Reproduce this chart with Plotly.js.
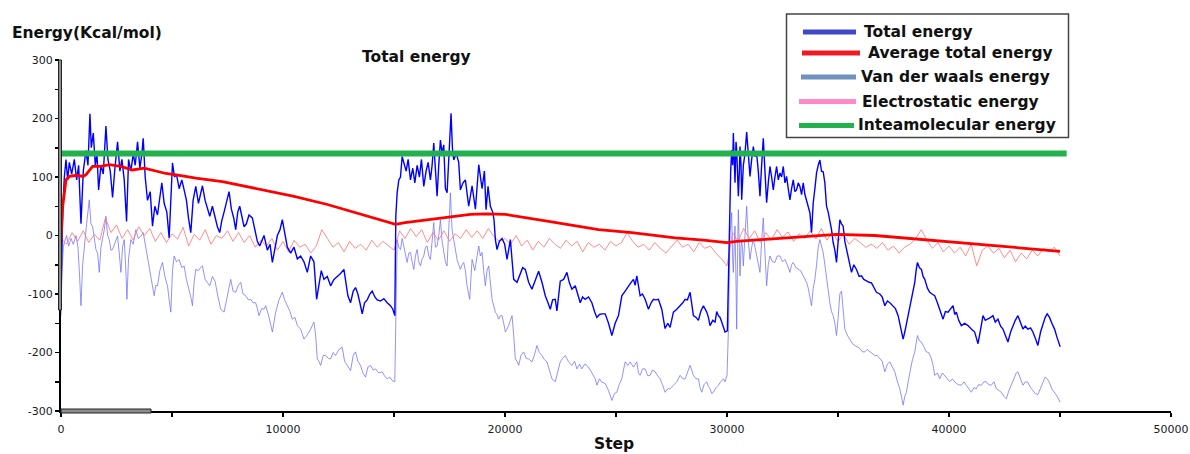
<!DOCTYPE html>
<html>
<head>
<meta charset="utf-8">
<script src="https://cdn.plot.ly/plotly-3.0.1.min.js"></script>
<style>html,body{margin:0;padding:0;background:#fff;}#chart{width:1190px;height:454px;}</style>
</head>
<body>
<div id="chart"></div>
<script>
// ---- Data (step, energy) ----
const totalEnergy = [[0,-110],[30,-40],[75,40],[150,100],[225,130],[300,95],[375,125],[480,105],[600,130],[705,95],[795,120],[900,20],[1004,110],[1124,145],[1214,120],[1304,208],[1364,150],[1454,175],[1544,120],[1619,140],[1694,78],[1799,120],[1904,105],[2024,187],[2114,130],[2219,110],[2323,65],[2428,115],[2548,160],[2653,110],[2743,130],[2848,95],[2953,24],[3043,130],[3148,110],[3253,140],[3343,120],[3448,160],[3553,115],[3643,140],[3703,166],[3793,100],[3897,60],[4017,75],[4122,16],[4227,50],[4347,35],[4452,65],[4542,90],[4647,55],[4767,40],[4872,-4],[4947,60],[5022,124],[5112,100],[5202,105],[5322,80],[5442,95],[5546,78],[5651,60],[5741,30],[5846,5],[5951,60],[6071,84],[6191,55],[6281,70],[6371,85],[6491,60],[6596,45],[6701,33],[6820,50],[6940,30],[7045,15],[7150,5],[7240,25],[7345,40],[7465,60],[7570,75],[7675,45],[7780,30],[7870,10],[7960,40],[8050,50],[8140,35],[8245,15],[8350,20],[8469,35],[8619,30],[8739,10],[8844,-10],[8949,-18],[9144,0],
[9296,-25],[9416,-15],[9521,-46],[9641,-20],[9746,0],[9865,10],[9970,27],[10075,5],[10195,-20],[10345,-30],[10495,-20],[10645,-40],[10795,-35],[10945,-45],[11095,-63],[11245,-35],[11394,-45],[11514,-109],[11619,-80],[11724,-60],[11844,-75],[11994,-70],[12144,-86],[12294,-75],[12444,-70],[12594,-65],[12744,-58],[12818,-80],[12923,-103],[13043,-115],[13163,-95],[13268,-89],[13373,-100],[13463,-115],[13568,-134],[13673,-115],[13793,-110],[13913,-100],[14018,-95],[14138,-105],[14243,-110],[14393,-112],[14543,-108],[14692,-115],[14842,-120],[14947,-126],[15037,-137],[15082,33],[15142,73],[15217,95],[15292,100],[15367,135],[15442,124],[15547,110],[15637,130],[15742,95],[15847,115],[15937,90],[16042,120],[16146,100],[16236,130],[16341,84],[16446,110],[16536,125],[16641,95],[16716,120],[16791,158],[16866,100],[16941,67],[17016,120],[17091,163],[17166,140],[17241,155],[17316,80],[17391,73],[17466,130],[17570,209],[17630,150],[17690,129],[17810,140],[17915,125],[17990,78],[18110,90],[18215,95],[18365,50],
[18517,85],[18667,45],[18817,121],[18967,80],[19072,110],[19146,44],[19236,84],[19341,50],[19446,40],[19506,27],[19566,-7],[19641,-24],[19746,-10],[19866,-5],[19986,-15],[20091,-41],[20241,-7],[20316,-40],[20391,-75],[20541,-80],[20690,-63],[20795,-55],[20915,-58],[21065,-80],[21215,-92],[21365,-75],[21515,-61],[21665,-80],[21815,-103],[21935,-115],[22040,-126],[22145,-110],[22265,-109],[22339,-129],[22489,-78],[22639,-75],[22789,-63],[22894,-80],[23014,-92],[23164,-86],[23284,-100],[23389,-115],[23494,-105],[23613,-109],[23763,-105],[23913,-115],[24033,-130],[24138,-140],[24258,-135],[24363,-134],[24513,-134],[24663,-150],[24813,-171],[24963,-150],[25112,-137],[25262,-103],[25412,-95],[25562,-86],[25682,-80],[25787,-75],[25862,-85],[25937,-69],[26012,-90],[26087,-103],[26192,-100],[26312,-109],[26462,-126],[26582,-115],[26687,-109],[26791,-110],[26911,-109],[27061,-126],[27211,-159],[27331,-150],[27436,-157],[27586,-131],
[27738,-126],[27888,-120],[28008,-115],[28113,-109],[28218,-110],[28337,-97],[28412,-115],[28487,-137],[28607,-140],[28712,-145],[28817,-130],[28937,-120],[29087,-131],[29162,-140],[29237,-154],[29357,-145],[29462,-148],[29537,-130],[29612,-137],[29687,-140],[29762,-148],[29836,-155],[29911,-165],[30016,-163],[30076,-50],[30121,73],[30166,110],[30211,146],[30256,120],[30286,175],[30331,130],[30361,90],[30406,160],[30436,146],[30481,100],[30511,67],[30556,110],[30586,152],[30631,120],[30661,61],[30736,120],[30811,140],[30886,177],[30961,140],[31036,101],[31111,130],[31186,152],[31260,135],[31335,140],[31410,110],[31485,67],[31560,120],[31635,166],[31710,110],[31785,56],[31860,90],[31935,118],[32010,100],[32085,78],[32160,100],[32235,118],[32310,95],[32385,107],[32460,100],[32535,118],[32610,90],[32684,101],[32759,80],[32834,61],[32909,80],[32984,95],[33059,75],[33134,78],[33209,90],[33284,84],[33359,70],[33434,90],[33509,70],[33584,61],[33659,50],[33734,39],[33809,5],[33884,56],[33959,80],[34034,107],[34109,120],[34183,129],[34258,110],[34333,109],[34408,90],[34483,50],[34558,40],[34633,27],[34708,10],[34783,-12],[34858,-25],[34933,-46],[35008,0],[35083,27],[35158,20],[35233,16],[35308,-10],[35383,-24],[35503,-45],[35608,-63],[35713,-50],[35833,-58],[35953,-70],[36057,-69],[36162,-75],[36282,-78],[36402,-80],[36507,-81],[36612,-88],[36732,-97],[36882,-100],
[36989,-105],[37109,-120],[37229,-112],[37334,-115],[37483,-120],[37588,-125],[37708,-137],[37828,-160],[37933,-177],[38008,-165],[38083,-150],[38188,-130],[38308,-109],[38383,-95],[38458,-80],[38518,-60],[38578,-46],[38668,-55],[38758,-58],[38833,-70],[38908,-75],[39028,-90],[39133,-97],[39237,-100],[39357,-103],[39477,-115],[39582,-126],[39657,-135],[39732,-143],[39837,-130],[39957,-131],[40077,-125],[40182,-120],[40257,-135],[40332,-131],[40437,-145],[40556,-154],[40706,-150],[40856,-154],[41006,-160],[41156,-165],[41231,-175],[41306,-185],[41426,-160],[41531,-137],[41636,-145],[41756,-143],[41876,-140],[41980,-137],[42085,-148],[42205,-143],[42325,-155],[42430,-160],[42535,-170],[42655,-182],[42775,-165],[42880,-154],[42985,-145],[43105,-137],[43225,-150],[43330,-160],[43435,-155],[43554,-160],[43674,-158],[43779,-165],[43884,-175],[44004,-188],[44124,-165],[44229,-150],[44334,-140],[44424,-134],[44529,-140],[44634,-150],[44754,-160],[44874,-175],[45008,-190]];

const vdwEnergy = [[0,-137],[45,-60],[105,-20],[150,-12],[255,0],[345,-18],[450,-5],[555,-15],[675,0],[765,-20],[825,-60],[900,-120],[975,-50],[1049,-18],[1154,20],[1274,61],[1349,20],[1424,15],[1499,-10],[1574,-24],[1649,-30],[1724,-63],[1799,-20],[1874,-7],[1949,10],[2024,33],[2099,0],[2174,-7],[2249,-25],[2323,-24],[2443,-10],[2548,-1],[2623,-30],[2698,-63],[2773,-20],[2848,-7],[2923,-60],[2968,-109],[3043,-40],[3148,-7],[3253,-15],[3373,10],[3478,-5],[3598,-1],[3703,5],[3793,-15],[3898,-35],[3973,-55],[4047,-75],[4122,-90],[4197,-103],[4272,-85],[4347,-86],[4452,-60],[4572,-46],[4677,-70],[4797,-86],[4872,-110],[4947,-131],[5022,-60],[5097,-35],[5202,-45],[5322,-41],[5442,-55],[5546,-52],[5651,-75],[5771,-92],[5846,-105],[5921,-120],[5996,-80],[6071,-58],[6191,-60],[6281,-55],[6371,-52],[6491,-75],[6596,-80],[6701,-86],[6820,-70],[6940,-78],[7045,-100],[7195,-126],[7345,-131],[7450,-110],[7570,-85],[7645,-75],[7750,-95],[7870,-97],[7990,-85],[8095,-80],[8200,-100],[8320,-103],[8440,-110],[8544,-109],[8649,-115],[8769,-115],[8844,-125],[8919,-137],[9039,-125],[9144,-126],
[9221,-120],[9371,-140],[9521,-165],[9671,-131],[9820,-110],[9970,-97],[10075,-110],[10195,-120],[10315,-130],[10420,-143],[10540,-140],[10645,-154],[10795,-160],[10945,-177],[11095,-170],[11245,-160],[11394,-148],[11469,-170],[11544,-211],[11619,-215],[11694,-222],[11814,-205],[11919,-205],[12039,-210],[12144,-211],[12264,-200],[12369,-205],[12519,-195],[12669,-191],[12774,-215],[12894,-222],[13043,-231],[13163,-205],[13268,-199],[13373,-215],[13493,-222],[13598,-235],[13718,-242],[13823,-225],[13943,-222],[14063,-230],[14168,-228],[14318,-235],[14468,-233],[14573,-240],[14693,-245],[14813,-242],[14917,-248],[15037,-250],[15067,-183],[15112,-60],[15142,-7],[15217,-20],[15292,-24],[15367,-5],[15442,-18],[15517,-35],[15592,-46],[15667,-30],[15742,-29],[15817,-45],[15891,-58],[15966,-35],[16041,-24],[16116,-45],[16191,-52],[16266,-40],[16341,-35],[16416,-20],[16491,-18],[16566,-35],[16641,-41],[16716,-10],[16791,22],[16866,-20],[16941,-18],[17016,0],[17091,27],[17166,-10],[17241,-29],[17316,-45],[17391,-52],[17466,0],[17541,73],[17616,10],[17690,-7],[17765,-30],[17840,-41],[17915,-50],[17990,-58],[18065,-50],[18140,-46],[18215,-60],[18290,-86],[18410,-109],
[18517,-41],[18637,-60],[18742,-30],[18817,-18],[18892,-35],[18967,-29],[19041,-60],[19116,-86],[19191,-60],[19266,-52],[19341,-80],[19416,-109],[19491,-120],[19566,-131],[19641,-135],[19716,-143],[19791,-137],[19866,-137],[19941,-150],[20016,-165],[20091,-160],[20166,-154],[20241,-145],[20316,-137],[20391,-170],[20466,-211],[20541,-215],[20616,-222],[20720,-205],[20840,-199],[20960,-210],[21065,-211],[21215,-216],[21320,-205],[21440,-188],[21545,-200],[21665,-205],[21770,-212],[21890,-216],[21995,-230],[22115,-245],[22265,-250],[22384,-230],[22489,-216],[22594,-210],[22714,-205],[22864,-216],[23014,-222],[23134,-215],[23239,-228],[23359,-220],[23464,-228],[23584,-220],[23689,-222],[23839,-230],[23989,-239],[24063,-245],[24138,-256],[24258,-245],[24363,-251],[24513,-253],[24663,-265],[24813,-282],[24933,-270],[25038,-268],[25143,-255],[25262,-245],[25337,-230],[25412,-216],[25532,-222],[25637,-216],[25787,-225],[25937,-216],[26012,-235],[26087,-239],[26192,-228],[26312,-228],[26432,-240],[26537,-239],[26642,-230],[26762,-233],[26882,-240],[26987,-245],[27092,-255],[27211,-268],[27331,-262],[27436,-262],[27586,-256],
[27738,-250],[27888,-239],[28008,-245],[28113,-245],[28218,-235],[28337,-222],[28412,-230],[28487,-239],[28607,-245],[28712,-245],[28787,-260],[28862,-268],[28967,-255],[29087,-250],[29162,-258],[29237,-262],[29312,-270],[29387,-268],[29507,-260],[29612,-256],[29717,-250],[29836,-245],[29911,-250],[30001,-239],[30061,-165],[30106,-30],[30136,5],[30181,20],[30211,39],[30256,-40],[30286,-63],[30331,-10],[30361,16],[30406,-80],[30436,-160],[30481,-20],[30511,44],[30556,-20],[30586,-69],[30631,-20],[30661,-7],[30706,-30],[30736,-52],[30811,0],[30886,50],[30961,-10],[31036,-41],[31111,-20],[31186,-7],[31260,-20],[31335,-35],[31410,-45],[31485,-63],[31560,-10],[31635,30],[31710,-30],[31785,-86],[31860,-50],[31935,-35],[32055,-45],[32160,-46],[32265,-35],[32385,-35],[32505,-45],[32610,-41],[32714,-50],[32834,-63],[32909,-50],[32984,-46],[33104,-55],[33209,-58],[33314,-60],[33434,-69],[33509,-75],[33584,-80],[33659,-90],[33734,-105],[33809,-120],[33884,-90],[33959,-75],[34034,-50],[34109,-20],[34183,-7],[34258,-20],[34333,-29],[34408,-50],[34483,-75],[34558,-100],[34633,-115],[34708,-130],[34783,-137],[34858,-150],[34933,-171],[35008,-140],[35083,-100],[35158,-95],[35233,-130],[35308,-160],[35413,-170],[35533,-177],[35653,-185],[35758,-188],[35863,-190],[35983,-193],[36103,-199],[36207,-199],[36312,-195],[36432,-199],[36552,-202],[36657,-205],[36762,-205],[36882,-210],
[36989,-215],[37109,-233],[37229,-220],[37334,-216],[37438,-225],[37558,-233],[37678,-250],[37783,-262],[37858,-275],[37933,-290],[38008,-275],[38083,-268],[38158,-250],[38233,-233],[38338,-215],[38458,-199],[38518,-185],[38578,-171],[38668,-180],[38758,-182],[38863,-190],[38983,-199],[39088,-200],[39208,-211],[39283,-222],[39357,-239],[39477,-235],[39582,-245],[39702,-235],[39807,-239],[39927,-245],[40032,-250],[40152,-245],[40257,-250],[40407,-255],[40556,-256],[40676,-250],[40781,-256],[40901,-262],[41006,-268],[41126,-260],[41231,-262],[41336,-255],[41456,-256],[41576,-250],[41681,-250],[41786,-255],[41906,-256],[42026,-250],[42131,-262],[42251,-265],[42356,-268],[42475,-275],[42580,-279],[42700,-265],[42805,-256],[42925,-245],[43030,-235],[43105,-233],[43225,-245],[43330,-256],[43435,-250],[43554,-251],[43674,-260],[43779,-265],[43884,-270],[44004,-272],[44124,-260],[44229,-250],[44334,-242],[44424,-245],[44529,-252],[44634,-262],[44754,-268],[44874,-275],[45008,-285]];

const elecEnergy = [[0,-5],[250,-15],[500,5],[750,-10],[1000,8],[1250,-12],[1500,2],[1750,-8],[2000,30],[2250,5],[2500,18],[2750,-5],[3000,10],[3250,-8],[3500,15],[3750,0],[4000,12],[4250,-10],[4500,5],[4750,-12],[5000,3],[5250,-6],[5500,14],[5750,-18],[6000,2],[6250,-8],[6500,10],[6750,-15],[7000,0],[7250,-5],[7500,8],[7750,-10],[8000,5],[8250,-12],[8500,0],[8750,-20],[9000,-8],[9250,-18],[9500,-5],[9750,-25],[10000,-10],[10250,-28],[10500,-8],[10750,-20],[11000,-15],[11250,-30],[11500,-18],[11750,10],[12000,-5],[12250,-20],[12500,-12],[12750,-28],[13000,-10],[13250,-22],[13500,-15],[13750,-25],[14000,-8],[14250,-20],[14500,-10],[14750,-18],[15000,-25],[15250,8],[15500,-5],[15750,12],[16000,-2],[16250,10],[16500,-12],[16750,5],[17000,-8],[17250,8],[17500,-10],[17750,3],[18000,-5],[18250,10],[18500,-3],[18750,8],[19000,-5],[19250,12],[19500,-2],[19750,-10],[20000,-5],[20250,-15],[20500,0],[20750,-18],[21000,-8],[21250,-25],[21500,-10],[21750,-20],[22000,-5],[22250,-15],[22500,-22],[22750,-8],[23000,-18],[23250,-10],[23500,-28],[23750,-12],[24000,-20],[24250,-15],[24500,-25],[24750,-10],[25000,-18],[25250,-12],[25500,5],[25750,-10],[26000,-20],[26250,-15],[26500,-25],[26750,-12],[27000,-22],[27250,-30],[27500,-18],[27750,-8],[28000,-20],[28250,-15],[28500,-28],[28750,-12],[29000,-22],[29250,-18],[29500,-30],[29750,-40],[30000,-52],[30250,5],[30500,-10],[30750,12],[31000,-5],[31250,8],[31500,-12],[31750,5],[32000,-8],[32250,10],[32500,-3],[32750,6],[33000,-10],[33250,3],[33500,-5],[33750,8],[34000,-6],[34250,12],[34500,-8],[34750,5],[35000,-10],[35250,2],[35500,-15],[35750,-5],[36000,-12],[36250,-20],[36500,-15],[36750,-22],[37000,-12],[37250,-25],[37500,-18],[37750,-30],[38000,-20],[38250,-15],[38500,-5],[38750,10],[39000,-8],[39250,-22],[39500,-12],[39750,-28],[40000,-18],[40250,-30],[40500,-20],[40750,-35],[41000,-15],[41250,-52],[41500,-25],[41750,-18],[42000,-30],[42250,-22],[42500,-38],[42750,-25],[43000,-45],[43250,-30],[43500,-40],[43750,-25],[44000,-35],[44250,-22],[44500,-28],[44750,-20],[45000,-35]];

const avgEnergy = [[0,-7],[75,50],[225,95],[375,101],[700,103],[1000,101],[1125,104],[1425,118],[1800,118],[2174,121],[2700,118],[3223,112],[3748,115],[4200,111],[4723,106],[5472,102],[6072,98],[7272,92],[9000,78],[10500,67],[12000,53],[13500,36],[15070,19],[15500,22],[16500,27],[18440,36],[19117,37],[20016,36],[21965,24],[24214,10],[25713,5],[27663,-4],[28937,-8],[29987,-12],[30437,-10],[31936,-6],[33436,-1],[34935,2],[36659,0],[38908,-7],[41157,-14],[43406,-21],[45000,-27]];

const intraEnergy = [[0,140],[45300,140]];

const seriesNames = ['Total energy','Average total energy','Van der waals energy','Electrostatic energy','Inteamolecular energy'];
const legendColors = ['#3f48cc','#ed1c24','#7092be','#ff88c8','#22b14c'];

const xTickVals = [0,10000,20000,30000,40000,50000];
const xTickText = ['0','10000','20000','30000','40000','50000'];
const xMinorVals = [5000,15000,25000,35000,45000];
const yTickVals = [300,200,100,0,-100,-200,-300];
const yTickText = ['300','200','100','0','-100','-200','-300'];
const yMinorVals = [250,150,50,-50,-150,-250];

// ---- Geometry helpers (layout decorations only) ----
const L=61, R=1171, T=60, B=411;
const px = x => (x - L) / (R - L);
const py = y => (B - y) / (B - T);

const xs = a => a.map(p => p[0]);
const ys = a => a.map(p => p[1]);

function tr(d, name, color, width) {
  return {type:'scatter', mode:'lines', x:xs(d), y:ys(d), name:name, showlegend:false,
          line:{color:color, width:width}, hoverinfo:'skip'};
}

const data = [
  tr(vdwEnergy, seriesNames[2], 'rgba(110,110,255,0.75)', 1),
  tr(elecEnergy, seriesNames[3], 'rgba(255,120,120,0.85)', 1),
  tr(totalEnergy, seriesNames[0], '#0000ff', 1.4),
  tr(avgEnergy, seriesNames[1], '#ff0000', 2.8),
  tr(intraEnergy, seriesNames[4], '#22b14c', 6)
];

const bold = {family:'DejaVu Sans, Verdana, sans-serif', size:15.5, color:'#111', weight:'bold'};

// legend box and entries
const legendRows = [
  {y:32, x0:803, x1:856, tx:862},
  {y:53, x0:802, x1:860, tx:866},
  {y:77, x0:801, x1:856, tx:859},
  {y:101.5, x0:799, x1:856, tx:860},
  {y:125.5, x0:799, x1:854, tx:856}
];

const shapes = [
  // scroll-like gray bars along axes
  {type:'rect', xref:'paper', yref:'paper', x0:px(58.5), x1:px(61.5), y0:py(310), y1:py(60),
   fillcolor:'#909090', line:{color:'#222', width:1}, layer:'above'},
  {type:'rect', xref:'paper', yref:'paper', x0:px(61), x1:px(151), y0:py(413), y1:py(409),
   fillcolor:'#8c8c8c', line:{color:'#222', width:1}, layer:'above'},
  // legend box
  {type:'rect', xref:'paper', yref:'paper', x0:px(786.5), x1:px(1068.5), y0:py(137.5), y1:py(14),
   fillcolor:'#ffffff', line:{color:'#444', width:1.5}, layer:'above'}
];
legendRows.forEach((r,i) => {
  shapes.push({type:'line', xref:'paper', yref:'paper', x0:px(r.x0), x1:px(r.x1), y0:py(r.y), y1:py(r.y),
               line:{color:legendColors[i], width:5}, layer:'above'});
});

const annotations = [
  {text:'<b>Energy(Kcal/mol)</b>', xref:'paper', yref:'paper', x:px(10), y:py(33), xanchor:'left', yanchor:'middle', showarrow:false, font:bold},
  {text:'<b>Total energy</b>', xref:'paper', yref:'paper', x:px(416), y:py(57), xanchor:'center', yanchor:'middle', showarrow:false, font:bold},
  {text:'<b>Step</b>', xref:'paper', yref:'paper', x:px(614), y:py(444), xanchor:'center', yanchor:'middle', showarrow:false, font:bold}
];
legendRows.forEach((r,i) => {
  annotations.push({text:'<b>' + seriesNames[i] + '</b>', xref:'paper', yref:'paper', x:px(r.tx), y:py(r.y), xanchor:'left', yanchor:'middle', showarrow:false, font:bold});
});

const tickFont = {family:'DejaVu Sans, Verdana, sans-serif', size:11, color:'#1a1a1a'};

const layout = {
  width:1190, height:454,
  margin:{l:L, r:1190-R, t:T, b:454-B, pad:0},
  paper_bgcolor:'#ffffff', plot_bgcolor:'#ffffff',
  showlegend:false, hovermode:false,
  xaxis:{range:[0,50000], tickmode:'array', tickvals:xTickVals, ticktext:xTickText,
         ticks:'outside', ticklen:4, tickwidth:1.5, tickcolor:'#000',
         minor:{tickmode:'array', tickvals:xMinorVals, ticks:'outside', ticklen:4, tickwidth:1.5, tickcolor:'#000'},
         showline:true, linecolor:'#000', linewidth:2, showgrid:false, zeroline:false,
         tickfont:tickFont, ticklabelstandoff:3, fixedrange:true},
  yaxis:{range:[-300,300], tickmode:'array', tickvals:yTickVals, ticktext:yTickText,
         ticks:'outside', ticklen:4, tickwidth:1.5, tickcolor:'#000',
         minor:{tickmode:'array', tickvals:yMinorVals, ticks:'outside', ticklen:4, tickwidth:1.5, tickcolor:'#000'},
         showline:true, linecolor:'#000', linewidth:2, showgrid:false, zeroline:false,
         tickfont:tickFont, fixedrange:true},
  shapes:shapes,
  annotations:annotations
};

Plotly.newPlot('chart', data, layout, {displayModeBar:false, staticPlot:true});
</script>
</body>
</html>
